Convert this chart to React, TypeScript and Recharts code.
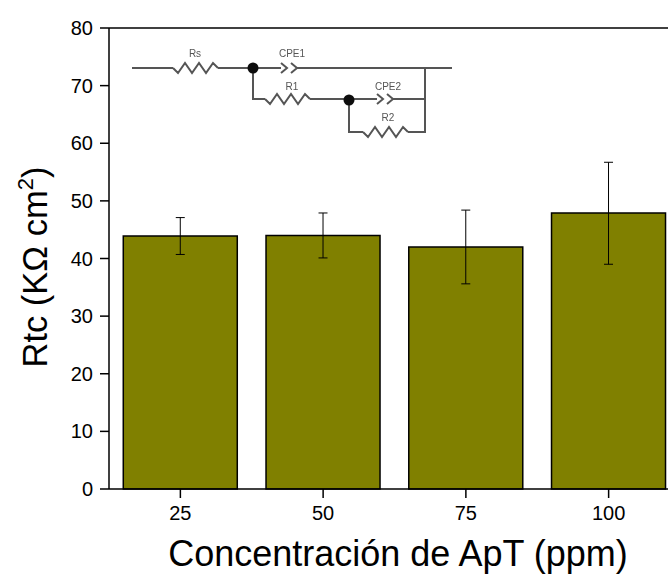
import React from "react";
import {
  BarChart,
  Bar,
  XAxis,
  YAxis,
  ErrorBar,
  ReferenceLine,
} from "recharts";

const concentrations = ["25", "50", "75", "100"];
const rtcValues = [43.9, 44, 42, 47.9];
const errorLow = [3.2, 3.9, 6.4, 8.9];
const errorHigh = [3.2, 3.9, 6.4, 8.8];
const yTicks = [0, 10, 20, 30, 40, 50, 60, 70, 80];

const chartData = concentrations.map((c, i) => ({
  name: c,
  rtc: rtcValues[i],
  err: [errorLow[i], errorHigh[i]],
}));

const FONT = '"Liberation Sans", Arial, sans-serif';

// squiggle for the resistors in the inset
const zigzag = (x: number, y: number) =>
  `M${x} ${y}l5 5 7-10 7 10 7-10 7 10 7-10 5 5`;

const CircuitInset = () => (
  <g fill="none" stroke="#555" strokeWidth={2} filter="url(#insetBlur)">
    <defs>
      <filter id="insetBlur" x="-5%" y="-5%" width="110%" height="110%">
        <feGaussianBlur stdDeviation={0.5} />
      </filter>
    </defs>
    <path d="M132 68H173" />
    <path d={zigzag(173, 68)} />
    <path d="M218 68H281M297 68H452" />
    <path d="M281 63l6 5-6 5M291 63l6 5-6 5" />
    <path d="M253 68V99H265" />
    <path d={zigzag(265, 99)} />
    <path d="M310 99H377M393 99H425" />
    <path d="M377 94l6 5-6 5M387 94l6 5-6 5" />
    <path d="M349 99V132H363" />
    <path d={zigzag(363, 132)} />
    <path d="M408 132H425V68" />
    <circle cx={253} cy={68} r={5.5} fill="#111" stroke="none" />
    <circle cx={349} cy={100} r={5.5} fill="#111" stroke="none" />
    <g fill="#555" stroke="none" fontSize={10} fontFamily={FONT} textAnchor="middle">
      <text x={195} y={57}>Rs</text>
      <text x={292} y={57}>CPE1</text>
      <text x={292} y={90}>R1</text>
      <text x={388} y={90}>CPE2</text>
      <text x={388} y={121}>R2</text>
    </g>
  </g>
);

export default function App() {
  return (
    <div
      style={{
        position: "fixed",
        left: 0,
        top: 0,
        width: 668,
        height: 574,
        overflow: "hidden",
        background: "#fff",
      }}
    >
      <BarChart
        width={700}
        height={574}
        data={chartData}
        barCategoryGap="10%"
        margin={{ top: 28, right: 20, bottom: 0, left: 0 }}
      >
        <XAxis
          dataKey="name"
          tick={{ fill: "#000", fontSize: 20, fontFamily: FONT }}
          tickLine={{ stroke: "#000", strokeWidth: 1.5 }}
          axisLine={{ stroke: "#000", strokeWidth: 1.5 }}
          tickSize={9}
          tickMargin={8}
          height={85}
        />
        <YAxis
          domain={[0, 80]}
          ticks={yTicks}
          width={109}
          tick={{ fill: "#000", fontSize: 20, fontFamily: FONT }}
          tickLine={{ stroke: "#000", strokeWidth: 1.5 }}
          axisLine={{ stroke: "#000", strokeWidth: 1.5 }}
          tickSize={9}
          tickMargin={7}
          interval={0}
        />
        <ReferenceLine y={80} stroke="#000" strokeWidth={1.5} />
        <Bar
          dataKey="rtc"
          fill="#808000"
          stroke="#000"
          strokeWidth={1.5}
          isAnimationActive={false}
        >
          <ErrorBar
            dataKey="err"
            stroke="#000"
            strokeWidth={1}
            width={4.5}
            isAnimationActive={false}
          />
        </Bar>
        <CircuitInset />
        <text
          x={398}
          y={566}
          textAnchor="middle"
          fontSize={36}
          fontFamily={FONT}
          fill="#000"
        >
          Concentración de ApT (ppm)
        </text>
        <text
          transform="translate(47 267) rotate(-90)"
          textAnchor="middle"
          fontSize={34.5}
          fontFamily={FONT}
          fill="#000"
        >
          Rtc (KΩ cm
          <tspan fontSize={22} dy={-14}>2</tspan>
          <tspan dy={14}>)</tspan>
        </text>
      </BarChart>
    </div>
  );
}
